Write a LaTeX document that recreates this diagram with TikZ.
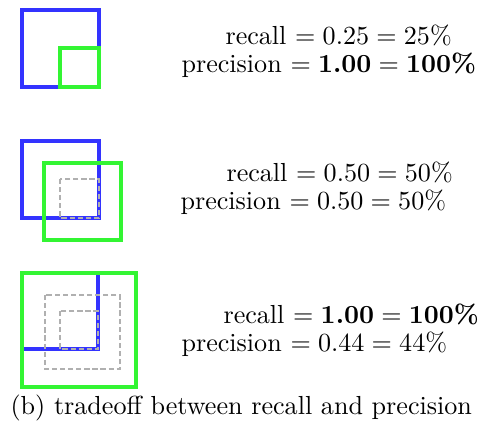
\documentclass[tikz,border=0pt]{standalone}
\usepackage{amsmath}
\usepackage{xcolor}
\definecolor{predBlue}  {HTML}{3333FF}
\definecolor{truthGreen}{HTML}{33F533}
\definecolor{ghostGray} {HTML}{B0B0B0}
\usetikzlibrary{positioning, calc}
\tikzset{
    predbox/.style={draw=predBlue, line width=1.2pt},
    truthbox/.style={draw=truthGreen, line width=1.2pt},
    ghostbox/.style={draw=ghostGray, line width=0.4pt,
                     dash pattern=on 2pt off 1.1pt},
    scoreline/.style={anchor=base west, inner sep=0pt},
}

\begin{document}
\begin{tikzpicture}[x=0.3831pt, y=-0.3831pt]
    \useasboundingbox (0,0) rectangle (478,426);
    % only part of the object found
    \draw[predbox]  (22,10) rectangle (99,87);
    \draw[truthbox] (60,48) rectangle (99,87);
    \node[scoreline] (rec1)  at (225,45) {recall $= 0.25 = 25\%$};
    \node[scoreline] (prec1) at (181,73) {precision $= \textbf{1.00} = \textbf{100\%}$};
    % shifted box
    \draw[predbox]  (22,141) rectangle (99,218);
    \draw[truthbox] (44,163) rectangle (121,240);
    \draw[ghostbox] (60,179) rectangle (99,218);
    \node[scoreline] (rec2)  at (226,182) {recall $= 0.50 = 50\%$};
    \node[scoreline] (prec2) at (180,210) {precision $= 0.50 = 50\%$};
    % box too large
    \draw[predbox]  (22,273) rectangle (98,349);
    \draw[truthbox] (22,273) rectangle (136,387);
    \draw[ghostbox] (45,295) rectangle (120,369);
    \draw[ghostbox] (60,311) rectangle (98,349);
    \node[scoreline] (rec3)  at (223,324) {recall $= \textbf{1.00} = \textbf{100\%}$};
    \node[scoreline] (prec3) at (181,352) {precision $= 0.44 = 44\%$};
    \node[scoreline] (caption) at (10,415) {(b) tradeoff between recall and precision};
\end{tikzpicture}
\end{document}
